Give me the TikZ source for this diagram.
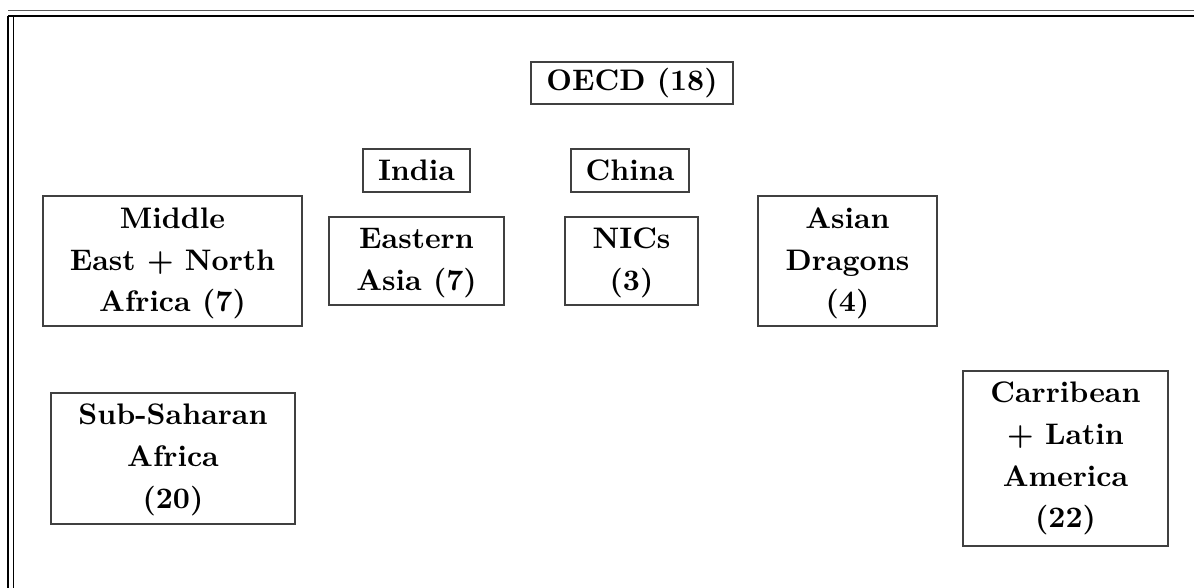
\documentclass[tikz,border=0pt]{standalone}
\begin{document}
\begin{tikzpicture}[x=0.35347pt,y=-0.35347pt,
  regbox/.style n args={2}{draw=black!75, line width=0.4pt, rectangle, align=center,
    font=\bfseries\fontsize{10.5}{14.8}\selectfont, inner sep=0pt,
    minimum width=#1*0.35347pt, minimum height=#2*0.35347pt},
  frameline/.style={line width=0.45pt}]
\useasboundingbox (0,0) rectangle (1194,588);
% frame
\coordinate (tl1) at (8,10.5);
\coordinate (tr1) at (1194,10.5);
\coordinate (tl2) at (8,16);
\coordinate (tr2) at (1194,16);
\coordinate (bl1) at (8,588);
\coordinate (il) at (13.5,16);
\coordinate (ib) at (13.5,588);
\draw[frameline, black!65] (tl1) -- (tr1);
\draw[frameline] (tl2) -- (tr2);
\draw[frameline] (tl2) -- (bl1);
\draw[frameline] (il) -- (ib);
% boxes
\node[regbox={202}{42}] (oecd) at (632,83) {OECD (18)};
\node[regbox={107}{43}] (india) at (416.5,170.5) {India};
\node[regbox={118}{43}] (china) at (630,170.5) {China};
\node[regbox={259}{130}] (mena) at (172.5,261) {\rule{0pt}{9pt}Middle\\East + North\\Africa (7)};
\node[regbox={175}{88}] (easia) at (416.5,261) {\rule{0pt}{8.5pt}Eastern\\Asia (7)};
\node[regbox={133}{88}] (nics) at (631.5,261) {\rule{0pt}{8.5pt}NICs\\(3)};
\node[regbox={179}{130}] (dragons) at (847.5,261) {\rule{0pt}{9pt}Asian\\Dragons\\(4)};
\node[regbox={244}{131}] (ssa) at (173,458.5) {\rule{0pt}{8.5pt}Sub-Saharan\\Africa\\(20)};
\node[regbox={205}{175}] (lac) at (1065.5,458.5) {Carribean\\+ Latin~\\America\\(22)};
\end{tikzpicture}
\end{document}
